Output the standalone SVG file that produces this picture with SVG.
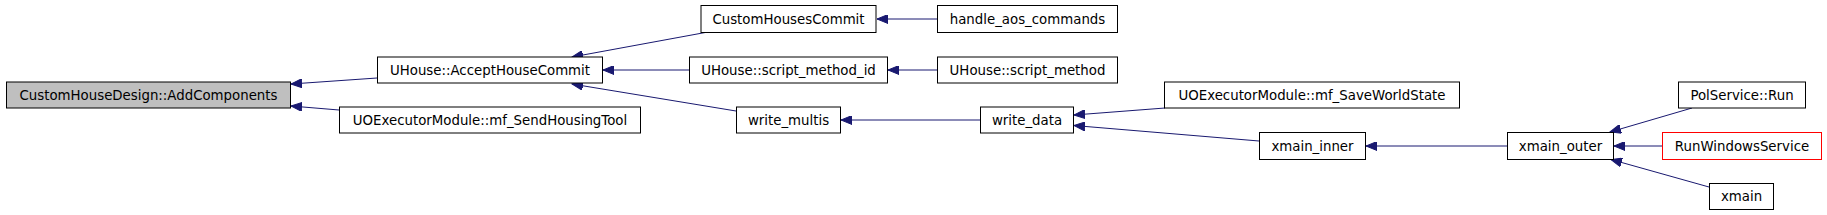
<svg xmlns="http://www.w3.org/2000/svg" width="1827" height="215" viewBox="0 0 1827 215">
<style>
.n rect{fill:#ffffff;stroke:#000000;stroke-width:1}
.n text{font-family:"DejaVu Sans","Liberation Sans",sans-serif;font-size:13.33px;fill:#000000;text-anchor:middle}
#n0 rect{fill:#bfbfbf}
#n13 rect{stroke:#ff0000}
.e line{stroke:#191970;stroke-width:1;marker-end:url(#ah)}
</style>
<defs>
<marker id="ah" markerUnits="userSpaceOnUse" markerWidth="12" markerHeight="9" refX="11" refY="4.5" orient="auto">
<path d="M0,0 L11,4.5 L0,9 z" fill="#191970" stroke="#191970" stroke-width="1"/>
</marker>
</defs>
<rect width="1827" height="215" fill="#ffffff"/>
<g class="e" id="edges">
<line x1="377" y1="78" x2="291" y2="84"/>
<line x1="339" y1="110" x2="291" y2="106"/>
<line x1="708" y1="32" x2="572" y2="57"/>
<line x1="689" y1="70" x2="603" y2="70"/>
<line x1="736" y1="111" x2="572" y2="84"/>
<line x1="937" y1="19" x2="877" y2="19"/>
<line x1="937" y1="70" x2="888" y2="70"/>
<line x1="980" y1="120" x2="841" y2="120"/>
<line x1="1165" y1="108" x2="1074" y2="115"/>
<line x1="1259" y1="141" x2="1074" y2="125.5"/>
<line x1="1507" y1="146" x2="1366" y2="146"/>
<line x1="1692" y1="108" x2="1610" y2="132"/>
<line x1="1662" y1="146" x2="1614" y2="146"/>
<line x1="1709" y1="187" x2="1611" y2="159.5"/>
</g>
<g class="n" id="n0"><rect x="6.5" y="82" width="284" height="26"/><text x="148.5" y="99.5">CustomHouseDesign::AddComponents</text></g>
<g class="n" id="n1"><rect x="377.5" y="57" width="225" height="26"/><text x="490" y="74.5">UHouse::AcceptHouseCommit</text></g>
<g class="n" id="n2"><rect x="339.5" y="107" width="301" height="26"/><text x="490" y="124.5">UOExecutorModule::mf_SendHousingTool</text></g>
<g class="n" id="n3"><rect x="701" y="5.5" width="175" height="27"/><text x="788.5" y="23.5">CustomHousesCommit</text></g>
<g class="n" id="n4"><rect x="689.5" y="57" width="198" height="26"/><text x="788.5" y="74.5">UHouse::script_method_id</text></g>
<g class="n" id="n5"><rect x="736.5" y="107" width="104" height="26"/><text x="788.5" y="124.5">write_multis</text></g>
<g class="n" id="n6"><rect x="937.5" y="5.5" width="180" height="27"/><text x="1027.5" y="23.5">handle_aos_commands</text></g>
<g class="n" id="n7"><rect x="937.5" y="57" width="180" height="26"/><text x="1027.5" y="74.5">UHouse::script_method</text></g>
<g class="n" id="n8"><rect x="980.5" y="107" width="93" height="26"/><text x="1027" y="124.5">write_data</text></g>
<g class="n" id="n9"><rect x="1164.5" y="82" width="295" height="26"/><text x="1312" y="99.5">UOExecutorModule::mf_SaveWorldState</text></g>
<g class="n" id="n10"><rect x="1259.5" y="132.5" width="106" height="27"/><text x="1312.5" y="150.5">xmain_inner</text></g>
<g class="n" id="n11"><rect x="1507.5" y="132.5" width="106" height="27"/><text x="1560.5" y="150.5">xmain_outer</text></g>
<g class="n" id="n12"><rect x="1678.5" y="82" width="127" height="26"/><text x="1742" y="99.5">PolService::Run</text></g>
<g class="n" id="n13"><rect x="1662.5" y="132.5" width="159" height="27"/><text x="1742" y="150.5">RunWindowsService</text></g>
<g class="n" id="n14"><rect x="1709.5" y="183.5" width="64" height="26"/><text x="1741.5" y="201">xmain</text></g>
</svg>
